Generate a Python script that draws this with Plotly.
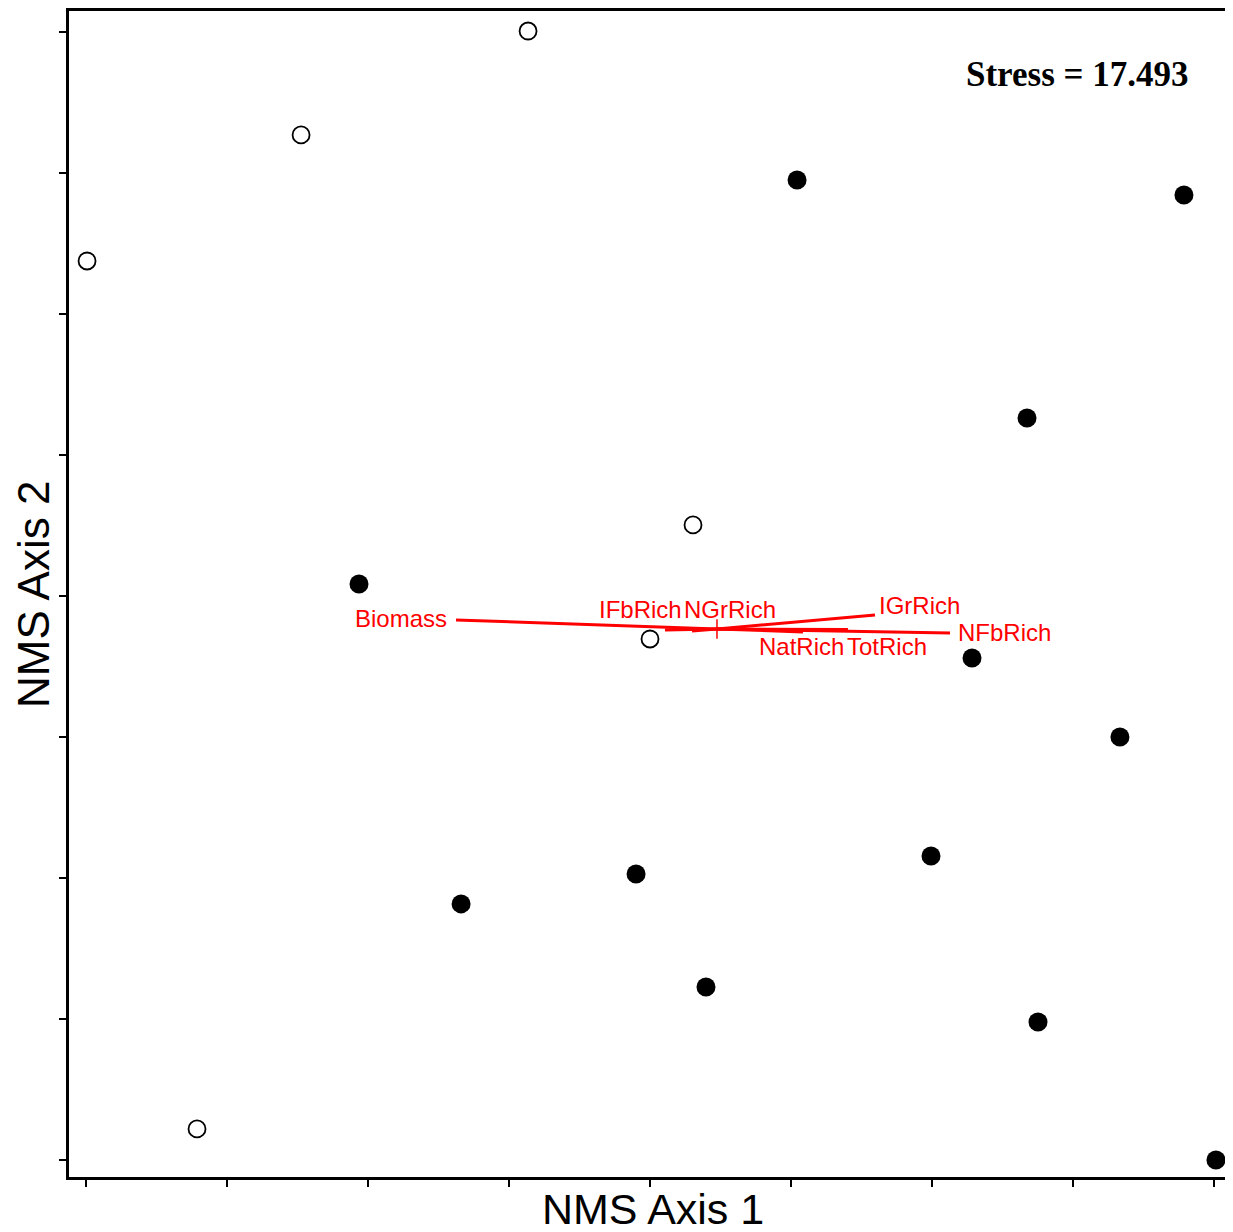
import plotly.graph_objects as go

# Sample scores (NMS axis units)
open_x = [-3.993, -2.475, -0.865, 0.305, 0.000, -3.213]
open_y = [2.376, 3.270, 4.007, 0.504, -0.305, -3.780]

filled_x = [1.043, 3.787, 2.674, -2.064, 2.284, 3.333, 1.993, -0.099, -1.340, 0.397, 2.752, 4.014]
filled_y = [2.950, 2.844, 1.262, 0.085, -0.440, -1.000, -1.844, -1.972, -2.184, -2.773, -3.021, -4.000]

# Joint-plot vectors
vec_names = ["Biomass", "IGrRich", "NFbRich", "TotRich", "NatRich", "IFbRich", "NGrRich"]
vec_x = [-1.376, 1.596, 2.128, 1.404, 1.085, 0.106, 0.298]
vec_y = [-0.170, -0.135, -0.262, -0.238, -0.255, -0.241, -0.248]
origin = (0.475, -0.234)

label_x = [-1.766, 1.908, 2.511, 1.681, 1.071, -0.071, 0.567]
label_y = [-0.163, -0.064, -0.262, -0.355, -0.355, -0.099, -0.099]

tick_vals = [-4, -3, -2, -1, 0, 1, 2, 3, 4]

fig = go.Figure()

for vx, vy in zip(vec_x, vec_y):
    fig.add_trace(go.Scatter(x=[origin[0], vx], y=[origin[1], vy], mode="lines",
                             line=dict(color="#ff0000", width=3), showlegend=False,
                             hoverinfo="skip"))

fig.add_trace(go.Scatter(x=[origin[0]], y=[origin[1]], mode="markers",
                         marker=dict(symbol="line-ns", size=14,
                                     line=dict(color="#ff0000", width=1.5)),
                         showlegend=False))

fig.add_trace(go.Scatter(x=open_x, y=open_y, mode="markers",
                         marker=dict(symbol="circle", size=17, color="white",
                                     line=dict(color="black", width=1.8)),
                         showlegend=False))
fig.add_trace(go.Scatter(x=filled_x, y=filled_y, mode="markers",
                         marker=dict(symbol="circle", size=19, color="black",
                                     line=dict(color="black", width=0)),
                         showlegend=False))

for name, lx, ly in zip(vec_names, label_x, label_y):
    fig.add_annotation(x=lx, y=ly, text=name, showarrow=False,
                       font=dict(family="Liberation Sans, Arial", size=24, color="#ff0000"))

fig.add_annotation(x=(1191 - 69) / 1164, y=(1177 - 75) / 1166, xref="paper", yref="paper",
                   xanchor="right", yanchor="middle",
                   text="<b>Stress = 17.493</b>", showarrow=False,
                   font=dict(family="Liberation Serif, Times New Roman", size=35, color="black"))

fig.add_annotation(x=(653 - 69) / 1164, y=(1177 - 1209) / 1166, xref="paper", yref="paper",
                   xanchor="center", yanchor="middle",
                   text="NMS Axis 1", showarrow=False,
                   font=dict(family="Liberation Sans, Arial", size=43, color="black"))
fig.add_annotation(x=(33 - 69) / 1164, y=(1177 - 595) / 1166, xref="paper", yref="paper",
                   xanchor="center", yanchor="middle",
                   text="NMS Axis 2", showarrow=False, textangle=-90,
                   font=dict(family="Liberation Sans, Arial", size=44, color="black"))

fig.update_xaxes(range=[-4.121, 4.135], tickvals=tick_vals, showticklabels=False,
                 ticks="outside", ticklen=7, tickwidth=2, tickcolor="black",
                 showline=True, linecolor="black", linewidth=3, mirror=True,
                 showgrid=False, zeroline=False)
fig.update_yaxes(range=[-4.121, 4.149], tickvals=tick_vals, showticklabels=False,
                 ticks="outside", ticklen=7, tickwidth=2, tickcolor="black",
                 showline=True, linecolor="black", linewidth=3,
                 showgrid=False, zeroline=False)

fig.update_layout(width=1225, height=1224, plot_bgcolor="white", paper_bgcolor="white",
                  margin=dict(l=61, r=0, t=3, b=55), showlegend=False)

fig.write_html("out.html")
